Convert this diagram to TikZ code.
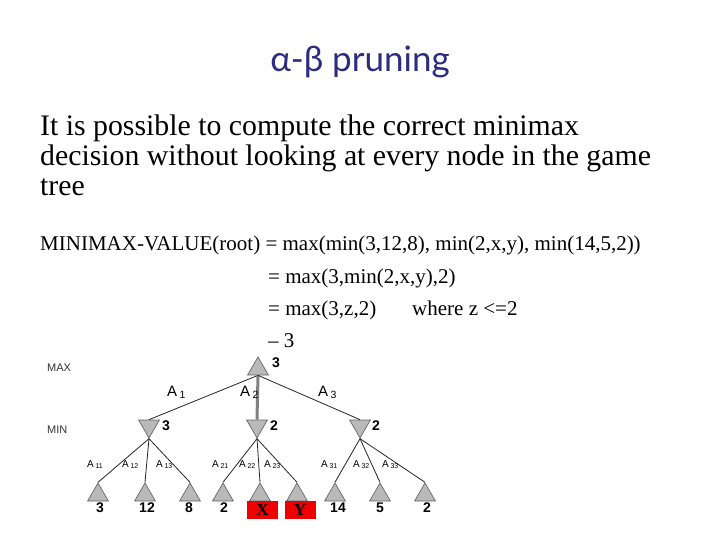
\documentclass[tikz,border=0pt]{standalone}
\usepackage{fontspec}
\setmainfont{Liberation Serif}
\setsansfont{Liberation Sans}
\newfontfamily\titlefont{Lato}
\usetikzlibrary{shapes.geometric}
\definecolor{titleblue}{RGB}{44,44,128}
\definecolor{trifill}{RGB}{185,185,185}
\definecolor{boxred}{RGB}{238,0,0}
\begin{document}
\begin{tikzpicture}[x=1pt,y=-1pt,
  tri/.style={regular polygon, regular polygon sides=3, minimum size=24pt, inner sep=0pt, fill=trifill, draw=black!60, line width=0.7pt},
  upnode/.style={tri},
  downnode/.style={tri, shape border rotate=180},
  edge/.style={line width=0.8pt, black!85},
  thickedge/.style={line width=3pt, black!50},
  val/.style={font=\sffamily\bfseries\fontsize{14}{14}\selectfont, inner sep=0pt},
  bigA/.style={font=\sffamily\fontsize{15}{15}\selectfont, inner sep=0pt, anchor=base west},
  smallA/.style={font=\sffamily\fontsize{10}{10}\selectfont, inner sep=0pt, anchor=base west},
  level/.style={font=\sffamily\fontsize{11}{11}\selectfont, inner sep=0pt, anchor=west, black!80},
  body/.style={font=\fontsize{29.8}{32}\selectfont, inner sep=0pt, anchor=base west},
  eq/.style={font=\fontsize{21}{23}\selectfont, inner sep=0pt, anchor=base west},
  redbox/.style={fill=boxred, minimum width=31pt, minimum height=18pt, inner sep=0pt, font=\bfseries\fontsize{17}{17}\selectfont}
]
\useasboundingbox (0,0) rectangle (720,540);
\fill[white] (0,0) rectangle (720,540);

\node[font=\titlefont\fontsize{35}{40}\selectfont, text=titleblue, inner sep=0pt] (title) at (360,62) {α-β pruning};

\node[body] (b1) at (40,136) {It is possible to compute the correct minimax};
\node[body] (b2) at (40,166) {decision without looking at every node in the game};
\node[body] (b3) at (40,196) {tree};

\node[eq] (e1) at (40,250) {MINIMAX-VALUE(root) = max(min(3,12,8), min(2,x,y), min(14,5,2))};
\node[eq] (e2) at (268,283) {= max(3,min(2,x,y),2)};
\node[eq] (e3) at (268,315) {= max(3,z,2)};
\node[eq] (e3b) at (412,315) {where z <=2};
\node[eq] (e4) at (268,347) {– 3};

\node[level] (lmax) at (47,368) {MAX};
\node[level] (lmin) at (47,430) {MIN};

% tree nodes
\node[upnode] (root) at (258,369) {};
\node[downnode] (m1) at (149,426) {};
\node[downnode] (m2) at (257,426) {};
\node[downnode] (m3) at (360,426) {};

\node[upnode] (l11) at (98,495) {};
\node[upnode] (l12) at (145,495) {};
\node[upnode] (l13) at (190,495) {};
\node[upnode] (l21) at (223,495) {};
\node[upnode] (l22) at (260,495) {};
\node[upnode] (l23) at (297,495) {};
\node[upnode] (l31) at (335,495) {};
\node[upnode] (l32) at (380,495) {};
\node[upnode] (l33) at (425,495) {};

% edges
\draw[edge] (root.side 2) -- (m1.side 2);
\draw[thickedge] (root.side 2) -- (m2.side 2);
\draw[edge] (root.side 2) -- (m3.side 2);
\foreach \m/\a/\b/\c in {m1/l11/l12/l13, m2/l21/l22/l23, m3/l31/l32/l33}{
  \draw[edge] (\m.corner 1) -- (\a.corner 1);
  \draw[edge] (\m.corner 1) -- (\b.corner 1);
  \draw[edge] (\m.corner 1) -- (\c.corner 1);
}

% values
\node[val] (vroot) at (276,363) {3};
\node[val] (vm1) at (166,426) {3};
\node[val] (vm2) at (274,426) {2};
\node[val] (vm3) at (376,426) {2};
\node[val] (v11) at (100,508) {3};
\node[val] (v12) at (147,508) {12};
\node[val] (v13) at (189,508) {8};
\node[val] (v21) at (224,508) {2};
\node[redbox] (bx) at (262.5,510) {X};
\node[redbox] (by) at (300,510) {Y};
\node[val] (v31) at (338,508) {14};
\node[val] (v32) at (380,508) {5};
\node[val] (v33) at (427,508) {2};

% edge labels
\node[bigA] (a1) at (167,396) {A\,\textsubscript{1}};
\node[bigA] (a2) at (240,396) {A\,\textsubscript{2}};
\node[bigA] (a3) at (318,396) {A\,\textsubscript{3}};

\node[smallA] (a11) at (87,467) {A\,\textsubscript{11}};
\node[smallA] (a12) at (122,467) {A\,\textsubscript{12}};
\node[smallA] (a13) at (156,467) {A\,\textsubscript{13}};
\node[smallA] (a21) at (212,467) {A\,\textsubscript{21}};
\node[smallA] (a22) at (239,467) {A\,\textsubscript{22}};
\node[smallA] (a23) at (264,467) {A\,\textsubscript{23}};
\node[smallA] (a31) at (321,467) {A\,\textsubscript{31}};
\node[smallA] (a32) at (353,467) {A\,\textsubscript{32}};
\node[smallA] (a33) at (382,467) {A\,\textsubscript{33}};
\end{tikzpicture}
\end{document}
